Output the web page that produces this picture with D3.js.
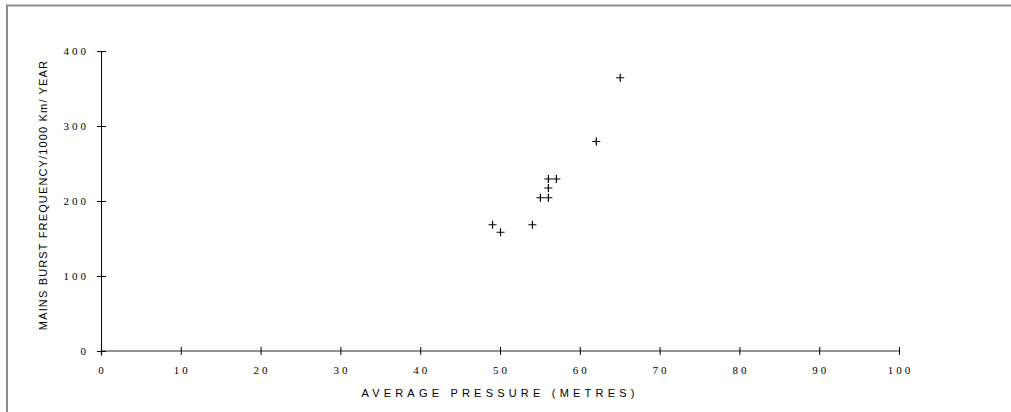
<!DOCTYPE html>
<html>
<head>
<meta charset="utf-8">
<script src="https://cdn.jsdelivr.net/npm/d3@7"></script>
<style>
  body { margin: 0; background: #fff; }
  svg { display: block; }
</style>
</head>
<body>
<div id="container"></div>
<script>

// pressure (m) vs burst frequency per 1000 km per year
const pressure  = [0, 49, 50, 54, 55, 56, 56, 56, 57, 62, 65];
const frequency = [0, 169, 159, 169, 205, 205, 218, 230, 230, 280, 365];

const xTicks = [0, 10, 20, 30, 40, 50, 60, 70, 80, 90, 100];
const yTicks = [0, 100, 200, 300, 400];

const xTitle = "AVERAGE PRESSURE (METRES)";
const yTitle = "MAINS BURST FREQUENCY/1000 Km/ YEAR";

function main() {

    const svgWidth = 1011;
    const svgHeight = 412;

    const svg = d3.select("#container")
        .append("svg")
        .attr("width", svgWidth)
        .attr("height", svgHeight);

    // outer frame, only top and left show in the picture
    svg.append("path")
        .attr("d", "M7,412 V5.5 H1011")
        .attr("fill", "none")
        .attr("stroke", "#8c8c8c")
        .attr("stroke-width", 2);

    const xScale = d3.scaleLinear()
        .domain([0, 100])
        .range([101, 899]);

    const yScale = d3.scaleLinear()
        .domain([0, 400])
        .range([351, 51]);

    const serif = "'Liberation Serif', 'Times New Roman', serif";
    const sans = "'Liberation Sans', Arial, sans-serif";
    const tickSpacing = 3;

    // x axis
    const xAxis = svg.append("g");
    xAxis.append("line")
        .attr("x1", xScale(0)).attr("x2", xScale(100))
        .attr("y1", yScale(0)).attr("y2", yScale(0))
        .attr("stroke", "#6e6e6e")
        .attr("stroke-width", 1.5);
    xAxis.selectAll(".xtick")
        .data(xTicks)
        .join("line")
        .attr("x1", d => xScale(d) + 0.5).attr("x2", d => xScale(d) + 0.5)
        .attr("y1", yScale(0) - 4).attr("y2", yScale(0) + 4)
        .attr("stroke", "#000");
    xAxis.selectAll(".xlabel")
        .data(xTicks)
        .join("text")
        .attr("x", d => xScale(d) + tickSpacing / 2)
        .attr("y", 374)
        .attr("text-anchor", "middle")
        .attr("font-family", serif)
        .attr("font-size", 11)
        .attr("letter-spacing", tickSpacing + "px")
        .text(d => d);

    // y axis
    const yAxis = svg.append("g");
    yAxis.append("line")
        .attr("x1", xScale(0) + 0.5).attr("x2", xScale(0) + 0.5)
        .attr("y1", yScale(0)).attr("y2", yScale(400))
        .attr("stroke", "#000")
        .attr("stroke-width", 1);
    yAxis.selectAll(".ytick")
        .data(yTicks)
        .join("line")
        .attr("x1", xScale(0) - 4).attr("x2", xScale(0) + 5)
        .attr("y1", d => yScale(d) + 0.5).attr("y2", d => yScale(d) + 0.5)
        .attr("stroke", "#000");
    yAxis.selectAll(".ylabel")
        .data(yTicks)
        .join("text")
        .attr("x", 86 + tickSpacing)
        .attr("y", d => yScale(d) + 4)
        .attr("text-anchor", "end")
        .attr("font-family", serif)
        .attr("font-size", 11)
        .attr("letter-spacing", tickSpacing + "px")
        .text(d => d);

    // titles
    svg.append("text")
        .attr("x", 498 + 2)
        .attr("y", 397)
        .attr("text-anchor", "middle")
        .attr("font-family", sans)
        .attr("font-size", 11)
        .attr("letter-spacing", "4.2px")
        .text(xTitle);

    svg.append("text")
        .attr("transform", "translate(47," + 195 + ") rotate(-90)")
        .attr("text-anchor", "middle")
        .attr("font-family", sans)
        .attr("font-size", 11)
        .attr("letter-spacing", "1.15px")
        .text(yTitle);

    // points as plus markers
    const points = pressure.map((p, i) => [p, frequency[i]]);
    svg.append("g")
        .selectAll("path")
        .data(points)
        .join("path")
        .attr("transform", d => "translate(" + (xScale(d[0]) + 0.5) + "," + (yScale(d[1]) + 0.5) + ")")
        .attr("d", "M-4,0 H4 M0,-4 V4")
        .attr("stroke", "#000")
        .attr("stroke-width", 1.2)
        .attr("fill", "none");
}

main();
</script>
</body>
</html>
